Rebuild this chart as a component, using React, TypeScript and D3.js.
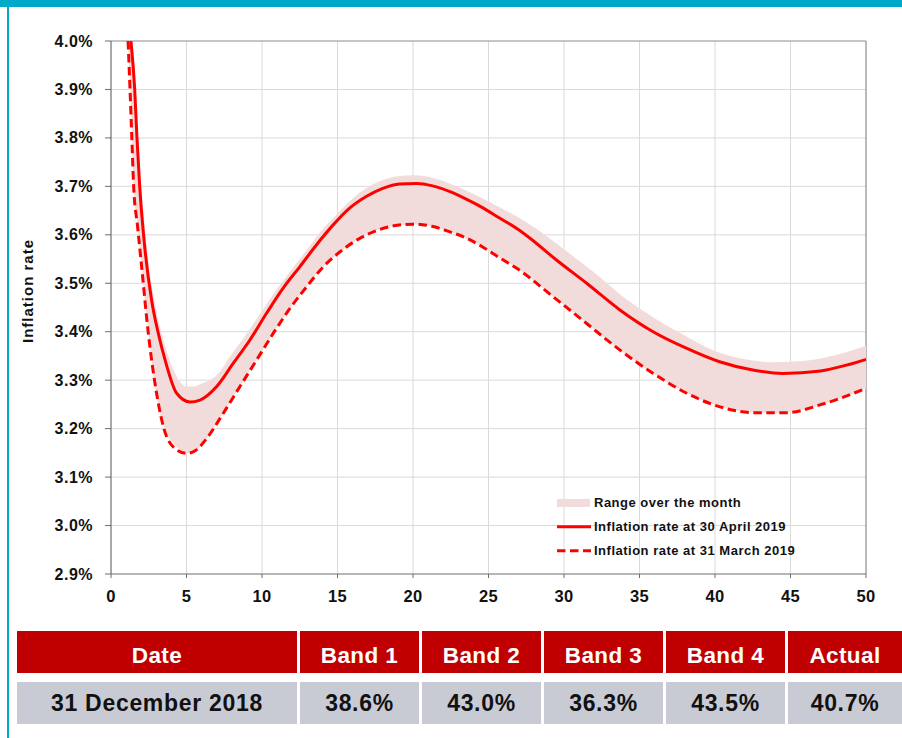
import React from "react";
import * as d3 from "d3";

// ---- Data ----
const xTicks = [0, 5, 10, 15, 20, 25, 30, 35, 40, 45, 50];
const yTicks = [2.9, 3.0, 3.1, 3.2, 3.3, 3.4, 3.5, 3.6, 3.7, 3.8, 3.9, 4.0];

// Inflation rate at 30 April 2019 (solid)
const aprilX = [1.32, 1.57, 1.72, 1.9, 2.25, 2.69, 3.13, 3.58, 4.35, 5.23, 5.89, 7.0, 8.1, 9.2, 10.3, 11.4, 12.5, 13.6, 14.7, 15.8, 16.9, 18.0, 19.1, 20.25, 21.3, 22.45, 23.56, 24.66, 25.76, 26.87, 27.75, 29.5, 31.5, 33.7, 35.9, 38.1, 40.3, 42.5, 44.5, 47.0, 48.7, 50];
const aprilY = [4.0, 3.9, 3.8, 3.7, 3.57, 3.465, 3.397, 3.342, 3.273, 3.255, 3.259, 3.287, 3.335, 3.383, 3.438, 3.49, 3.534, 3.579, 3.62, 3.655, 3.679, 3.696, 3.705, 3.706, 3.701, 3.689, 3.673, 3.655, 3.634, 3.613, 3.593, 3.548, 3.5, 3.445, 3.4, 3.366, 3.338, 3.321, 3.314, 3.319, 3.331, 3.343];

// Inflation rate at 31 March 2019 (dashed)
const marchX = [1.13, 1.26, 1.38, 1.5, 1.75, 2.03, 2.47, 2.91, 3.47, 4.24, 5.01, 5.6, 6.34, 7.44, 8.54, 9.65, 10.75, 11.85, 12.96, 14.06, 15.17, 16.27, 17.37, 18.48, 20.02, 21.34, 22.45, 23.56, 24.66, 25.76, 26.87, 29.29, 31.5, 33.71, 35.91, 38.13, 40.33, 42.54, 44.75, 46.95, 50];
const marchY = [4.0, 3.9, 3.8, 3.7, 3.62, 3.534, 3.397, 3.294, 3.204, 3.159, 3.149, 3.155, 3.18, 3.232, 3.287, 3.342, 3.397, 3.448, 3.493, 3.534, 3.565, 3.589, 3.606, 3.617, 3.622, 3.617, 3.606, 3.593, 3.574, 3.552, 3.531, 3.472, 3.417, 3.362, 3.314, 3.273, 3.245, 3.233, 3.233, 3.249, 3.283];

// Range over the month (band)
const bandX = [1.13, 1.3, 1.5, 1.75, 2.0, 2.5, 3.0, 3.5, 4.0, 4.5, 5.0, 5.5, 6.0, 7, 8, 9, 10, 11, 12, 13, 14, 15, 16, 17, 18, 19, 20, 21, 22, 23, 24, 25, 26, 27, 28, 30, 32, 34, 36, 38, 40, 42, 44, 46, 48, 50];
const bandLow = [4.0, 3.88, 3.7, 3.62, 3.545, 3.39, 3.27, 3.205, 3.175, 3.158, 3.149, 3.152, 3.165, 3.212, 3.26, 3.31, 3.36, 3.409, 3.454, 3.495, 3.532, 3.56, 3.583, 3.6, 3.613, 3.619, 3.622, 3.619, 3.611, 3.6, 3.585, 3.567, 3.548, 3.529, 3.505, 3.455, 3.405, 3.355, 3.312, 3.275, 3.249, 3.235, 3.232, 3.24, 3.258, 3.283];
const bandHigh = [4.3, 4.1, 3.97, 3.8, 3.7, 3.54, 3.445, 3.38, 3.332, 3.3, 3.287, 3.287, 3.293, 3.31, 3.354, 3.397, 3.443, 3.488, 3.53, 3.57, 3.611, 3.644, 3.675, 3.698, 3.713, 3.721, 3.723, 3.72, 3.711, 3.698, 3.684, 3.669, 3.652, 3.636, 3.616, 3.57, 3.522, 3.47, 3.428, 3.392, 3.36, 3.343, 3.337, 3.34, 3.352, 3.371];

const legendLabels = ["Range over the month", "Inflation rate at 30 April 2019", "Inflation rate at 31 March 2019"];

const tableHeaders = ["Date", "Band 1", "Band 2", "Band 3", "Band 4", "Actual"];
const tableValues = ["31 December 2018", "38.6%", "43.0%", "36.3%", "43.5%", "40.7%"];

// ---- Layout ----
const W = 902;
const H = 738;
const plot = { left: 111, right: 866, top: 41, bottom: 574 };
const colEdges = [17, 300, 422, 544, 666, 788, 905];
const FONT = "'Liberation Sans', Arial, Helvetica, sans-serif";
const RED = "#FF0000";

export default function App() {
  const x = d3.scaleLinear().domain([0, 50]).range([plot.left, plot.right]);
  const y = d3.scaleLinear().domain([2.9, 4.0]).range([plot.bottom, plot.top]);

  const april = aprilX.map((v, i) => [v, aprilY[i]] as [number, number]);
  const march = marchX.map((v, i) => [v, marchY[i]] as [number, number]);
  const band = bandX.map((v, i) => ({ x: v, lo: bandLow[i], hi: bandHigh[i] }));

  const line = d3
    .line<[number, number]>()
    .x((d) => x(d[0]))
    .y((d) => y(d[1]))
    .curve(d3.curveMonotoneX);

  const area = d3
    .area<{ x: number; lo: number; hi: number }>()
    .x((d) => x(d.x))
    .y0((d) => y(d.lo))
    .y1((d) => y(d.hi))
    .curve(d3.curveMonotoneX);

  return (
    <svg
      width={W}
      height={H}
      style={{ position: "absolute", left: 0, top: 0, background: "#fff" }}
      fontFamily={FONT}
    >
      <defs>
        <clipPath id="plotClip">
          <rect x={plot.left} y={plot.top} width={plot.right - plot.left} height={plot.bottom - plot.top} />
        </clipPath>
      </defs>

      {/* frame decorations */}
      <rect x={0} y={0} width={W} height={7} fill="#00A8CA" />
      <rect x={7} y={0} width={2} height={H} fill="#00A8CA" />

      {/* gridlines */}
      {xTicks.slice(1, -1).map((t) => (
        <line key={"gx" + t} x1={x(t)} x2={x(t)} y1={plot.top} y2={plot.bottom} stroke="#DADADA" strokeWidth={1} />
      ))}
      {yTicks.slice(1, -1).map((t) => (
        <line key={"gy" + t} x1={plot.left} x2={plot.right} y1={y(t)} y2={y(t)} stroke="#DADADA" strokeWidth={1} />
      ))}

      {/* plot border top/right */}
      <line x1={plot.left} x2={plot.right} y1={plot.top} y2={plot.top} stroke="#8C8C8C" strokeWidth={1.2} />
      <line x1={plot.right} x2={plot.right} y1={plot.top} y2={plot.bottom} stroke="#8C8C8C" strokeWidth={1.2} />

      {/* series */}
      <g clipPath="url(#plotClip)">
        <path d={area(band) || ""} fill="#F2DCDB" />
        <path d={line(march) || ""} fill="none" stroke={RED} strokeWidth={3} strokeDasharray="8.5,4.5" />
        <path d={line(april) || ""} fill="none" stroke={RED} strokeWidth={3} />
      </g>

      {/* axes */}
      <line x1={plot.left} x2={plot.left} y1={plot.top} y2={plot.bottom} stroke="#6E6E6E" strokeWidth={1.2} />
      <line x1={plot.left} x2={plot.right} y1={plot.bottom} y2={plot.bottom} stroke="#6E6E6E" strokeWidth={1.2} />
      {yTicks.map((t) => (
        <g key={"yt" + t}>
          <line x1={plot.left - 6} x2={plot.left} y1={y(t)} y2={y(t)} stroke="#6E6E6E" strokeWidth={1} />
          <text x={93} y={y(t) + 5.5} textAnchor="end" fontSize={16} letterSpacing={0.5} fontWeight="bold" fill="#111">
            {t.toFixed(1) + "%"}
          </text>
        </g>
      ))}
      {xTicks.map((t) => (
        <g key={"xt" + t}>
          <line x1={x(t)} x2={x(t)} y1={plot.bottom} y2={plot.bottom + 4} stroke="#6E6E6E" strokeWidth={1} />
          <text x={x(t)} y={602} textAnchor="middle" fontSize={16.5} letterSpacing={0.4} fontWeight="bold" fill="#111">
            {t}
          </text>
        </g>
      ))}
      <text
        transform={`translate(33,${291}) rotate(-90)`}
        textAnchor="middle"
        fontSize={15}
        letterSpacing={1}
        fontWeight="bold"
        fill="#111"
      >
        Inflation rate
      </text>

      {/* legend */}
      <rect x={557} y={499} width={33} height={8} fill="#F2DCDB" />
      <line x1={557} x2={591} y1={526.7} y2={526.7} stroke={RED} strokeWidth={3} />
      <line x1={557} x2={591} y1={550.7} y2={550.7} stroke={RED} strokeWidth={3} strokeDasharray="8.5,4.5" />
      {legendLabels.map((l, i) => (
        <text key={l} x={594} y={507 + i * 24.2} fontSize={13} letterSpacing={0.5} fontWeight="bold" fill="#111">
          {l}
        </text>
      ))}

      {/* table */}
      {tableHeaders.map((h, i) => {
        const x0 = colEdges[i];
        const x1 = colEdges[i + 1] - 3;
        return (
          <g key={h}>
            <rect x={x0} y={631} width={x1 - x0} height={42} fill="#C00000" />
            <text x={(x0 + x1) / 2} y={663} textAnchor="middle" fontSize={22.5} letterSpacing={0.4} fontWeight="bold" fill="#fff">
              {h}
            </text>
            <rect x={x0} y={682} width={x1 - x0} height={42} fill="#C9CBD4" />
            <text x={(x0 + x1) / 2} y={711} textAnchor="middle" fontSize={23} letterSpacing={0.7} fontWeight="bold" fill="#111">
              {tableValues[i]}
            </text>
          </g>
        );
      })}
    </svg>
  );
}
